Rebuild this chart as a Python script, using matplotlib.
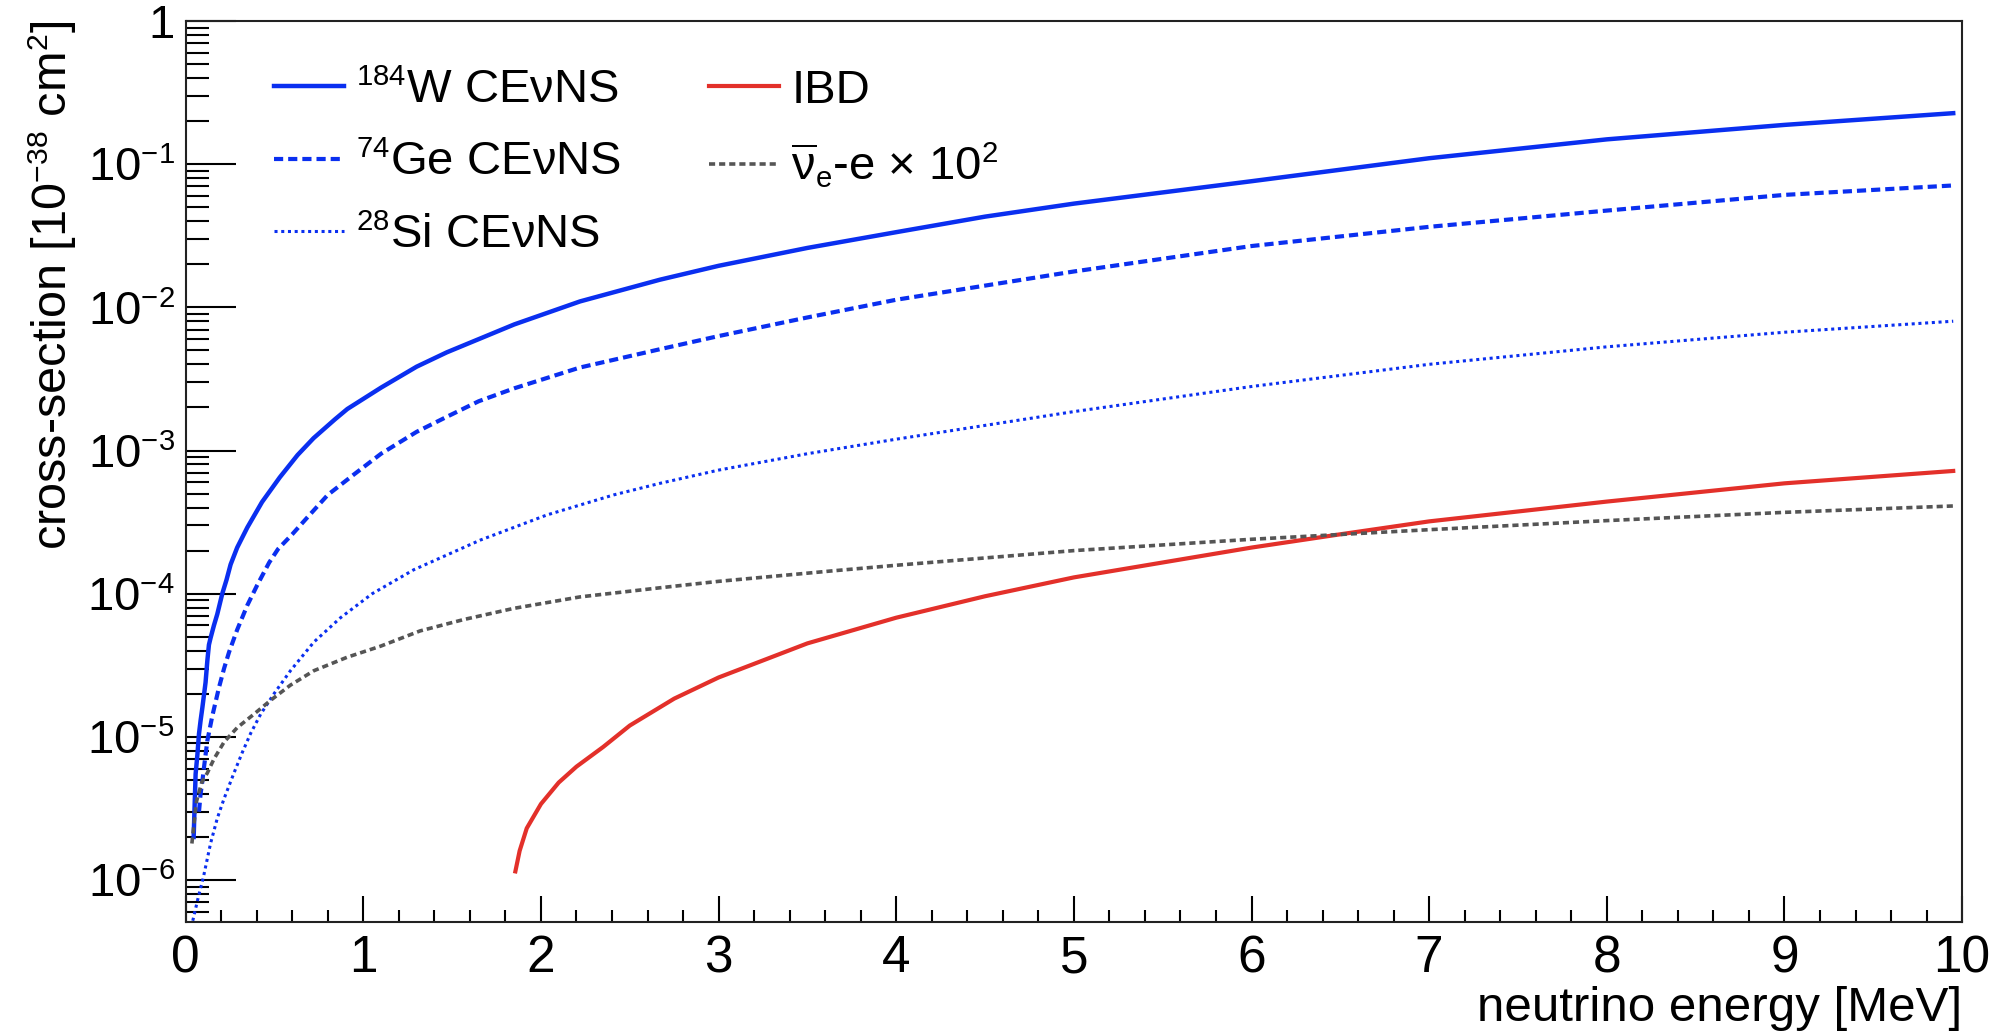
import numpy as np
import matplotlib.pyplot as plt
import matplotlib._mathtext as mathtext_internal
from matplotlib.ticker import FixedLocator, MultipleLocator, NullFormatter

plt.rcParams['font.family'] = ['Liberation Sans', 'DejaVu Sans']
plt.rcParams['mathtext.fontset'] = 'custom'
plt.rcParams['mathtext.rm'] = 'Liberation Sans'
plt.rcParams['mathtext.it'] = 'Liberation Sans'
plt.rcParams['mathtext.bf'] = 'Liberation Sans:bold'
# smaller super/subscripts, closer to the ROOT look
mathtext_internal.SHRINK_FACTOR = 0.62

# cross-sections in units of 1e-38 cm^2 vs neutrino energy in MeV
e_w = [0.045, 0.056, 0.066, 0.075, 0.084, 0.094, 0.112, 0.122, 0.131, 0.14, 0.159,
       0.178, 0.206, 0.23, 0.253, 0.29, 0.347, 0.43, 0.53, 0.63, 0.72, 0.84, 0.91,
       1.1, 1.3, 1.47, 1.65, 1.85, 2.22, 2.67, 3.0, 3.5, 4.0, 4.5, 5.0, 6.0, 7.0,
       8.0, 9.0, 9.95]
xs_w = [2.0e-6, 5.5e-6, 7.5e-6, 1.05e-5, 1.3e-5, 1.6e-5, 2.4e-5, 3.4e-5, 4.4e-5,
        4.9e-5, 6.0e-5, 7.2e-5, 1.0e-4, 1.25e-4, 1.6e-4, 2.1e-4, 2.9e-4, 4.37e-4,
        6.5e-4, 9.3e-4, 1.22e-3, 1.65e-3, 1.95e-3, 2.75e-3, 3.85e-3, 4.85e-3, 6.0e-3,
        7.6e-3, 1.1e-2, 1.56e-2, 1.95e-2, 2.6e-2, 3.35e-2, 4.3e-2, 5.3e-2, 7.6e-2,
        0.11, 0.149, 0.188, 0.227]

e_ge = [0.075, 0.084, 0.094, 0.103, 0.122, 0.15, 0.187, 0.216, 0.244, 0.29, 0.347,
        0.403, 0.47, 0.52, 0.6, 0.684, 0.8, 0.947, 1.1, 1.3, 1.47, 1.65, 1.85, 2.22,
        2.67, 3.0, 3.5, 4.0, 5.0, 6.0, 7.0, 8.0, 9.0, 9.95]
xs_ge = [3.0e-6, 4.0e-6, 4.9e-6, 6.1e-6, 9.4e-6, 1.4e-5, 2.2e-5, 3.0e-5, 3.9e-5,
         5.6e-5, 8.3e-5, 1.15e-4, 1.65e-4, 2.05e-4, 2.6e-4, 3.4e-4, 4.9e-4, 6.8e-4,
         9.5e-4, 1.35e-3, 1.72e-3, 2.21e-3, 2.72e-3, 3.8e-3, 5.1e-3, 6.3e-3, 8.5e-3,
         1.13e-2, 1.78e-2, 2.68e-2, 3.65e-2, 4.74e-2, 6.1e-2, 7.1e-2]

e_si = [0.04, 0.07, 0.1, 0.14, 0.178, 0.216, 0.272, 0.319, 0.366, 0.422, 0.497, 0.59,
        0.722, 0.872, 1.05, 1.284, 1.659, 2.034, 2.41, 2.67, 3.0, 3.5, 4.0, 5.0, 6.0,
        7.0, 8.0, 9.0, 9.95]
xs_si = [5.2e-7, 7.5e-7, 1.05e-6, 1.8e-6, 2.7e-6, 3.7e-6, 5.6e-6, 7.8e-6, 1.06e-5,
         1.44e-5, 2.0e-5, 2.9e-5, 4.6e-5, 6.8e-5, 1.0e-4, 1.47e-4, 2.37e-4, 3.55e-4,
         4.9e-4, 5.9e-4, 7.3e-4, 9.5e-4, 1.2e-3, 1.87e-3, 2.8e-3, 4.0e-3, 5.3e-3,
         6.7e-3, 8.0e-3]

e_ibd = [1.856, 1.88, 1.92, 2.0, 2.1, 2.2, 2.35, 2.5, 2.75, 3.0, 3.5, 4.0, 4.5, 5.0,
         6.0, 6.5, 7.0, 8.0, 9.0, 9.95]
xs_ibd = [1.15e-6, 1.6e-6, 2.3e-6, 3.4e-6, 4.8e-6, 6.2e-6, 8.5e-6, 1.2e-5, 1.85e-5,
          2.6e-5, 4.5e-5, 6.8e-5, 9.6e-5, 1.3e-4, 2.1e-4, 2.6e-4, 3.2e-4, 4.4e-4,
          5.9e-4, 7.2e-4]

# antineutrino-electron scattering, scaled by 1e2
e_nue = [0.035, 0.06, 0.09, 0.122, 0.159, 0.216, 0.29, 0.384, 0.478, 0.59, 0.722,
         0.909, 1.097, 1.32, 1.565, 1.847, 2.22, 2.67, 3.0, 3.63, 4.0, 5.0, 6.0, 7.0,
         8.0, 9.0, 9.95]
xs_nue = [1.8e-6, 3.5e-6, 4.8e-6, 5.6e-6, 7.0e-6, 9.2e-6, 1.16e-5, 1.44e-5, 1.8e-5,
          2.3e-5, 2.9e-5, 3.6e-5, 4.3e-5, 5.5e-5, 6.6e-5, 7.9e-5, 9.5e-5, 1.1e-4,
          1.22e-4, 1.44e-4, 1.58e-4, 2.0e-4, 2.4e-4, 2.8e-4, 3.24e-4, 3.7e-4, 4.1e-4]

y_ticks = [1e-6, 1e-5, 1e-4, 1e-3, 1e-2, 1e-1, 1]
y_ticklabels = [r'$10^{-6}$', r'$10^{-5}$', r'$10^{-4}$', r'$10^{-3}$',
                r'$10^{-2}$', r'$10^{-1}$', '1']

blue = '#0a2ff0'
red = '#e3302a'
grey = '#555555'

fig = plt.figure(figsize=(20.05, 10.33), dpi=100)
ax = fig.add_axes([0.0926, 0.1075, 0.886, 0.8722])

ax.plot(e_w, xs_w, color=blue, lw=3.2, label=r'$^{184}$W CEνNS')
ax.plot(e_ge, xs_ge, color=blue, lw=3.0, dashes=(2.2, 1.2), label=r'$^{74}$Ge CEνNS')
ax.plot(e_si, xs_si, color=blue, lw=2.2, dashes=(1.0, 1.2), label=r'$^{28}$Si CEνNS')
ax.plot(e_ibd, xs_ibd, color=red, lw=3.0, label='IBD')
ax.plot(e_nue, xs_nue, color=grey, lw=2.6, dashes=(1.7, 1.1),
        label=r'$\overline{\nu}_{e}$-e $\times$ 10$^{2}$')

ax.set_yscale('log')
ax.set_xlim(0, 10)
ax.set_ylim(5.1e-7, 1)

ax.xaxis.set_major_locator(MultipleLocator(1))
ax.xaxis.set_minor_locator(MultipleLocator(0.2))
ax.yaxis.set_major_locator(FixedLocator(y_ticks))
ax.set_yticklabels(y_ticklabels)
ax.yaxis.set_minor_locator(FixedLocator(
    [m * 10.0 ** d for d in range(-7, 0) for m in range(2, 10)]))
ax.yaxis.set_minor_formatter(NullFormatter())

ax.tick_params(which='both', direction='in', top=False, right=False, width=1.5,
               colors='black')
ax.tick_params(axis='y', which='major', length=36, pad=8, labelsize=34)
ax.tick_params(axis='y', which='minor', length=16.5)
ax.tick_params(axis='x', which='major', length=19, pad=9, labelsize=37)
ax.tick_params(axis='x', which='minor', length=9)

for sp in ax.spines.values():
    sp.set_linewidth(1.5)
    sp.set_color('#222222')

ax.set_xlabel('neutrino energy [MeV]', fontsize=35.5, loc='right', labelpad=2)
ax.set_ylabel(r'cross-section [10$^{-38}$ cm$^{2}$]', fontsize=35, loc='top',
              labelpad=6)

ax.legend(ncol=2, loc='upper left', bbox_to_anchor=(0.0256, 0.994), frameon=False,
          fontsize=34, handlelength=1.48, handletextpad=0.27, columnspacing=1.85,
          labelspacing=0.6)

fig.savefig('out.png', dpi=100)
